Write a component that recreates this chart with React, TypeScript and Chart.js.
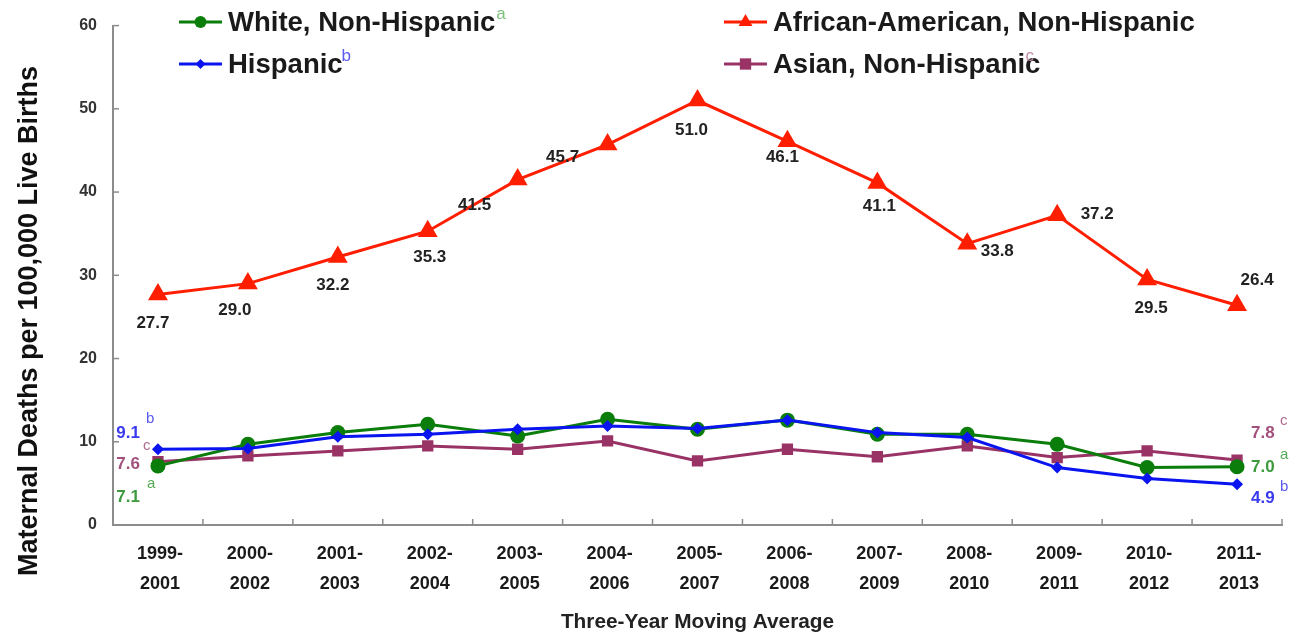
import { useEffect, useRef } from "react";
import { Chart, registerables } from "chart.js";

Chart.register(...registerables);

// Three-year moving-average periods (two-line tick labels)
const periods: string[][] = [
  ["1999-", "2001"],
  ["2000-", "2002"],
  ["2001-", "2003"],
  ["2002-", "2004"],
  ["2003-", "2005"],
  ["2004-", "2006"],
  ["2005-", "2007"],
  ["2006-", "2008"],
  ["2007-", "2009"],
  ["2008-", "2010"],
  ["2009-", "2011"],
  ["2010-", "2012"],
  ["2011-", "2013"],
];

// Maternal deaths per 100,000 live births
const whiteNonHispanic = [7.1, 9.7, 11.1, 12.1, 10.7, 12.7, 11.5, 12.6, 10.9, 10.9, 9.7, 6.9, 7.0];
const hispanic = [9.1, 9.2, 10.6, 10.9, 11.5, 11.9, 11.6, 12.6, 11.1, 10.5, 6.9, 5.6, 4.9];
const africanAmericanNonHispanic = [27.7, 29.0, 32.2, 35.3, 41.5, 45.7, 51.0, 46.1, 41.1, 33.8, 37.2, 29.5, 26.4];
const asianNonHispanic = [7.6, 8.3, 8.9, 9.5, 9.1, 10.1, 7.7, 9.1, 8.2, 9.5, 8.1, 8.9, 7.8];

const yTickValues = [0, 10, 20, 30, 40, 50, 60];

const yTitle = "Maternal Deaths per 100,000 Live Births";
const xTitle = "Three-Year Moving Average";

// Offsets (px) of the value labels on the African-American series, relative to each point
const redLabelOffsets: [number, number][] = [
  [-5, 29], [-13, 27], [-5, 28], [2, 26], [-43, 26], [-45, 13], [-6, 30],
  [-5, 16], [2, 23], [30, 8], [40, -1], [4, 29], [20, -25],
];

const GREEN = "#0b7d0b";
const BLUE = "#0a14f0";
const RED = "#ff1e00";
const MAROON = "#993366";

const SANS = '"Liberation Sans", Arial, Helvetica, sans-serif';

function drawSuper(ctx: CanvasRenderingContext2D, text: string, x: number, y: number, color: string, size = 15) {
  ctx.save();
  ctx.font = `${size}px ${SANS}`;
  ctx.fillStyle = color;
  ctx.textAlign = "left";
  ctx.textBaseline = "middle";
  ctx.fillText(text, x, y);
  ctx.restore();
}

// Small marker shapes for the legend
function drawMarker(ctx: CanvasRenderingContext2D, style: string, x: number, y: number, r: number) {
  ctx.beginPath();
  if (style === "circle") {
    ctx.arc(x, y, r, 0, Math.PI * 2);
  } else if (style === "rectRot") {
    ctx.moveTo(x, y - r);
    ctx.lineTo(x + r, y);
    ctx.lineTo(x, y + r);
    ctx.lineTo(x - r, y);
    ctx.closePath();
  } else if (style === "triangle") {
    const w = r * Math.sin(Math.PI / 3);
    ctx.moveTo(x, y - r);
    ctx.lineTo(x + w, y + r / 2);
    ctx.lineTo(x - w, y + r / 2);
    ctx.closePath();
  } else {
    const s = r * Math.SQRT1_2;
    ctx.rect(x - s, y - s, 2 * s, 2 * s);
  }
  ctx.fill();
}

// Centered text with a horizontal scale factor
function drawScaled(ctx: CanvasRenderingContext2D, text: string, x: number, y: number, font: string, sx: number) {
  ctx.save();
  ctx.font = font;
  ctx.textAlign = "center";
  ctx.textBaseline = "middle";
  ctx.translate(x, y);
  ctx.scale(sx, 1);
  ctx.fillText(text, 0, 0);
  ctx.restore();
}

const annotations = {
  id: "annotations",
  afterDraw(chart: any) {
    const ctx: CanvasRenderingContext2D = chart.ctx;
    const xs = chart.scales.x;
    const ys = chart.scales.y;
    const area = chart.chartArea;

    // inward tick marks on both axes
    ctx.save();
    ctx.strokeStyle = "#8c8c8c";
    ctx.lineWidth = 1.5;
    const step = xs.getPixelForValue(1) - xs.getPixelForValue(0);
    for (let i = 0; i <= periods.length; i++) {
      const px = xs.getPixelForValue(i) - step / 2;
      ctx.beginPath();
      ctx.moveTo(px, area.bottom);
      ctx.lineTo(px, area.bottom - 6);
      ctx.stroke();
    }
    yTickValues.forEach((v) => {
      const py = ys.getPixelForValue(v);
      ctx.beginPath();
      ctx.moveTo(area.left, py);
      ctx.lineTo(area.left + 6, py);
      ctx.stroke();
    });
    ctx.restore();

    // x tick labels, two lines per period
    ctx.save();
    ctx.fillStyle = "#1a1a1a";
    periods.forEach((lines, i) => {
      const px = xs.getPixelForValue(i) + 2;
      lines.forEach((t, k) => {
        drawScaled(ctx, t, px, area.bottom + 29 + k * 30, `bold 19px ${SANS}`, 0.95);
      });
    });
    ctx.restore();

    // value labels on the African-American series
    const redMeta = chart.getDatasetMeta(2);
    ctx.save();
    ctx.font = `bold 17px ${SANS}`;
    ctx.fillStyle = "#222";
    ctx.textAlign = "center";
    ctx.textBaseline = "middle";
    redMeta.data.forEach((pt: any, i: number) => {
      const [dx, dy] = redLabelOffsets[i];
      ctx.fillText(africanAmericanNonHispanic[i].toFixed(1), pt.x + dx, pt.y + dy);
    });
    ctx.restore();

    // first / last values of the lower series
    const first = xs.getPixelForValue(0);
    const last = xs.getPixelForValue(periods.length - 1);
    const n = periods.length - 1;
    ctx.save();
    ctx.font = `bold 17px ${SANS}`;
    ctx.textBaseline = "middle";
    ctx.textAlign = "right";
    const lx = first - 18;
    ctx.fillStyle = "#3a3aee";
    ctx.fillText(hispanic[0].toFixed(1), lx, 433);
    ctx.fillStyle = "#a2507c";
    ctx.fillText(asianNonHispanic[0].toFixed(1), lx, 464);
    ctx.fillStyle = "#3d9a3d";
    ctx.fillText(whiteNonHispanic[0].toFixed(1), lx, 497);
    ctx.textAlign = "left";
    const rx = last + 14;
    ctx.fillStyle = "#a2507c";
    ctx.fillText(asianNonHispanic[n].toFixed(1), rx, 433);
    ctx.fillStyle = "#3d9a3d";
    ctx.fillText(whiteNonHispanic[n].toFixed(1), rx, 467);
    ctx.fillStyle = "#3a3aee";
    ctx.fillText(hispanic[n].toFixed(1), rx, 498);
    ctx.restore();
    drawSuper(ctx, "b", lx + 6, 419, "#5a5af0");
    drawSuper(ctx, "c", lx + 3, 446, "#b06a90");
    drawSuper(ctx, "a", lx + 7, 484, "#55aa55");
    drawSuper(ctx, "c", rx + 29, 421, "#b06a90");
    drawSuper(ctx, "a", rx + 29, 455, "#55aa55");
    drawSuper(ctx, "b", rx + 29, 487, "#5a5af0");

    // axis titles
    ctx.save();
    ctx.fillStyle = "#111";
    ctx.font = `bold 27px ${SANS}`;
    ctx.textAlign = "center";
    ctx.textBaseline = "middle";
    ctx.translate(30, 321);
    ctx.rotate(-Math.PI / 2);
    ctx.fillText(yTitle, 0, 0);
    ctx.restore();
    ctx.save();
    ctx.fillStyle = "#222";
    drawScaled(ctx, xTitle, (area.left + area.right) / 2, 622, `bold 20px ${SANS}`, 1.04);
    ctx.restore();

    // legend
    const entries = [
      { label: "White, Non-Hispanic", sup: "a", supDx: 1, supColor: "#7cc07c", color: GREEN, style: "circle", r: 6, x: 179, y: 22 },
      { label: "Hispanic", sup: "b", supDx: -1, supColor: "#5a5af0", color: BLUE, style: "rectRot", r: 5, x: 179, y: 64 },
      { label: "African-American, Non-Hispanic", sup: "", supDx: 0, supColor: "", color: RED, style: "triangle", r: 8, x: 724, y: 22 },
      { label: "Asian, Non-Hispanic", sup: "c", supDx: -15, supColor: "#c08aa8", color: MAROON, style: "rect", r: 8, x: 724, y: 64 },
    ];
    entries.forEach((e) => {
      ctx.save();
      ctx.strokeStyle = e.color;
      ctx.lineWidth = 3;
      ctx.beginPath();
      ctx.moveTo(e.x, e.y);
      ctx.lineTo(e.x + 43, e.y);
      ctx.stroke();
      ctx.fillStyle = e.color;
      drawMarker(ctx, e.style, e.x + 21.5, e.y, e.r);
      ctx.font = `bold 27.5px ${SANS}`;
      ctx.fillStyle = "#1a1a1a";
      ctx.textAlign = "left";
      ctx.textBaseline = "middle";
      ctx.fillText(e.label, e.x + 49, e.y + 1);
      const w = ctx.measureText(e.label).width;
      ctx.restore();
      if (e.sup) drawSuper(ctx, e.sup, e.x + 49 + w + e.supDx, e.y - 8, e.supColor, 17);
    });
  },
};

export default function App() {
  const canvasRef = useRef<HTMLCanvasElement | null>(null);

  useEffect(() => {
    const canvas = canvasRef.current;
    if (!canvas) return;
    const series = (label: string, data: number[], color: string, style: string, r: number, order: number) => ({
      label,
      data,
      borderColor: color,
      backgroundColor: color,
      pointBackgroundColor: color,
      pointBorderColor: color,
      pointBorderWidth: 0,
      pointStyle: style,
      pointRadius: r,
      borderWidth: 3,
      tension: 0,
      order,
    });
    const chart = new Chart(canvas, {
      type: "line",
      data: {
        labels: periods,
        datasets: [
          series("White, Non-Hispanic", whiteNonHispanic, GREEN, "circle", 7.5, 1),
          series("Hispanic", hispanic, BLUE, "rectRot", 6, 0),
          series("African-American, Non-Hispanic", africanAmericanNonHispanic, RED, "triangle", 11.5, 3),
          series("Asian, Non-Hispanic", asianNonHispanic, MAROON, "rect", 8, 2),
        ],
      },
      options: {
        animation: false,
        responsive: false,
        events: [],
        layout: { padding: { left: 0, top: 21, right: 20, bottom: 0 } },
        plugins: {
          legend: { display: false },
          tooltip: { enabled: false },
          title: { display: false },
        },
        scales: {
          x: {
            offset: true,
            grid: { display: false, drawTicks: false },
            border: { display: true, color: "#8c8c8c", width: 2 },
            ticks: { display: false, autoSkip: false },
            afterFit: (s: any) => {
              s.height = 110;
            },
          },
          y: {
            min: 0,
            max: 60,
            grid: { display: false, drawTicks: false },
            border: { display: true, color: "#8c8c8c", width: 2 },
            ticks: {
              stepSize: 10,
              padding: 16,
              color: "#333",
              font: { family: SANS, size: 16, weight: "bold" },
            },
            afterFit: (s: any) => {
              s.width = 113;
            },
          },
        },
      },
      plugins: [
        {
          id: "whiteBg",
          beforeDraw(c: any) {
            c.ctx.save();
            c.ctx.fillStyle = "#fff";
            c.ctx.fillRect(0, 0, c.width, c.height);
            c.ctx.restore();
          },
        },
        annotations,
      ],
    } as any);
    return () => chart.destroy();
  }, []);

  return (
    <div style={{ position: "absolute", left: 0, top: 0, width: 1302, height: 635, background: "#fff" }}>
      <canvas ref={canvasRef} width={1302} height={635} />
    </div>
  );
}
